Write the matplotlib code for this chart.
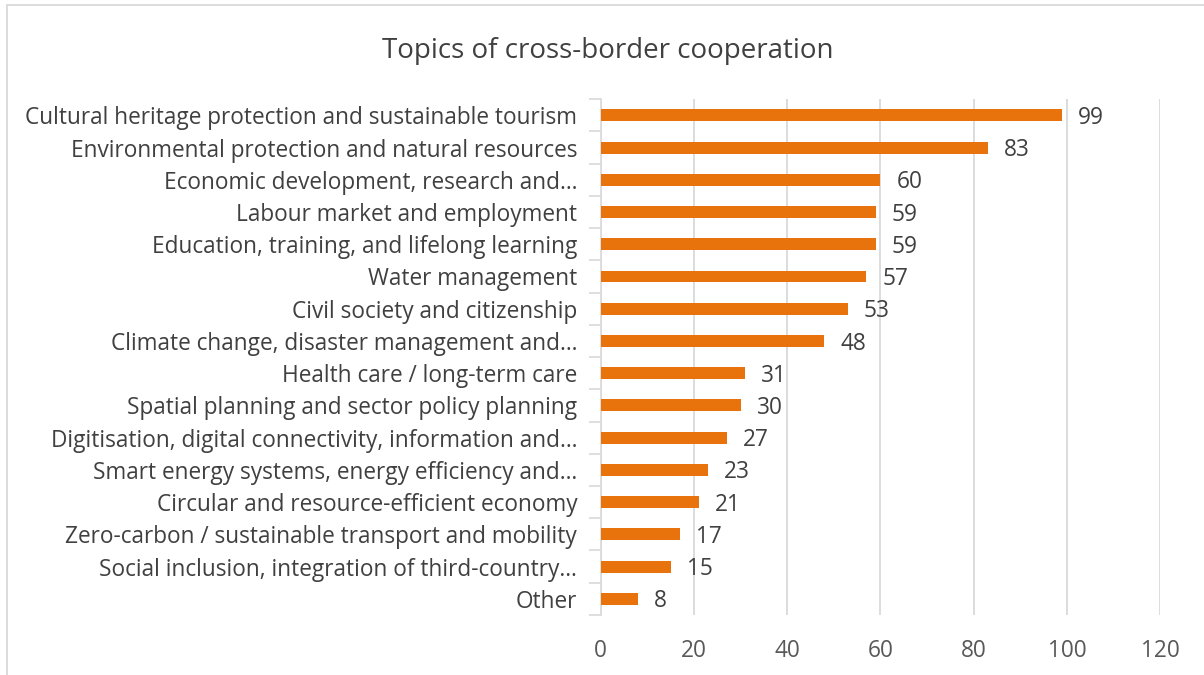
import numpy as np
import matplotlib.pyplot as plt
from matplotlib.patches import Rectangle
from matplotlib.ticker import FixedLocator

# topics, top to bottom
topics = [
    "Cultural heritage protection and sustainable tourism",
    "Environmental protection and natural resources",
    "Economic development, research and\u2026",
    "Labour market and employment",
    "Education, training, and lifelong learning",
    "Water management",
    "Civil society and citizenship",
    "Climate change, disaster management and\u2026",
    "Health care / long-term care",
    "Spatial planning and sector policy planning",
    "Digitisation, digital connectivity, information and\u2026",
    "Smart energy systems, energy efficiency and\u2026",
    "Circular and resource-efficient economy",
    "Zero-carbon / sustainable transport and mobility",
    "Social inclusion, integration of third-country\u2026",
    "Other",
]
counts = [99, 83, 60, 59, 59, 57, 53, 48, 31, 30, 27, 23, 21, 17, 15, 8]
x_ticks = [0, 20, 40, 60, 80, 100, 120]

bar_color = "#E8720C"
grid_color = "#D9D9D9"
text_color = "#404040"

plt.rcParams['font.family'] = ['Open Sans', 'DejaVu Sans']

fig = plt.figure(figsize=(12.04, 6.75), dpi=100)
ax = fig.add_axes([0.499, 0.089, 0.4645, 0.764])

y = np.arange(len(topics))
ax.barh(y, counts, height=0.37, color=bar_color, zorder=3)
for yi, v in zip(y, counts):
    ax.text(v + 3.4, yi + 0.08, str(v), va='center', ha='left',
            fontsize=16.3, color=text_color)

ax.set_ylim(len(topics) - 0.5, -0.5)
ax.set_xlim(0, 120)
ax.set_xticks(x_ticks)
ax.set_yticks(y)
ax.set_yticklabels(topics, fontsize=16.3, color=text_color)
ax.yaxis.set_minor_locator(FixedLocator(np.arange(-0.5, len(topics), 1)))
ax.tick_params(axis='y', which='major', length=0, pad=17)
ax.tick_params(axis='y', which='minor', length=9, width=1.2, color=grid_color)
ax.tick_params(axis='x', length=0, labelsize=16.3, labelcolor="#595959", pad=17)

ax.grid(axis='x', color=grid_color, linewidth=1.3, zorder=0)
for s in ['top', 'right', 'bottom']:
    ax.spines[s].set_visible(False)
ax.spines['left'].set_color(grid_color)
ax.spines['left'].set_linewidth(1.2)

fig.text(0.505, 0.925, "Topics of cross-border cooperation", ha='center',
         va='center', fontsize=20, color=text_color)

# chart frame, running off the right and bottom edges
fig.patches.append(Rectangle((7 / 1204, -0.1), 1.2, 0.1 + 1 - 5 / 675,
                             transform=fig.transFigure, fill=False,
                             edgecolor=grid_color, linewidth=1.3))

fig.savefig("out.png", dpi=100)
